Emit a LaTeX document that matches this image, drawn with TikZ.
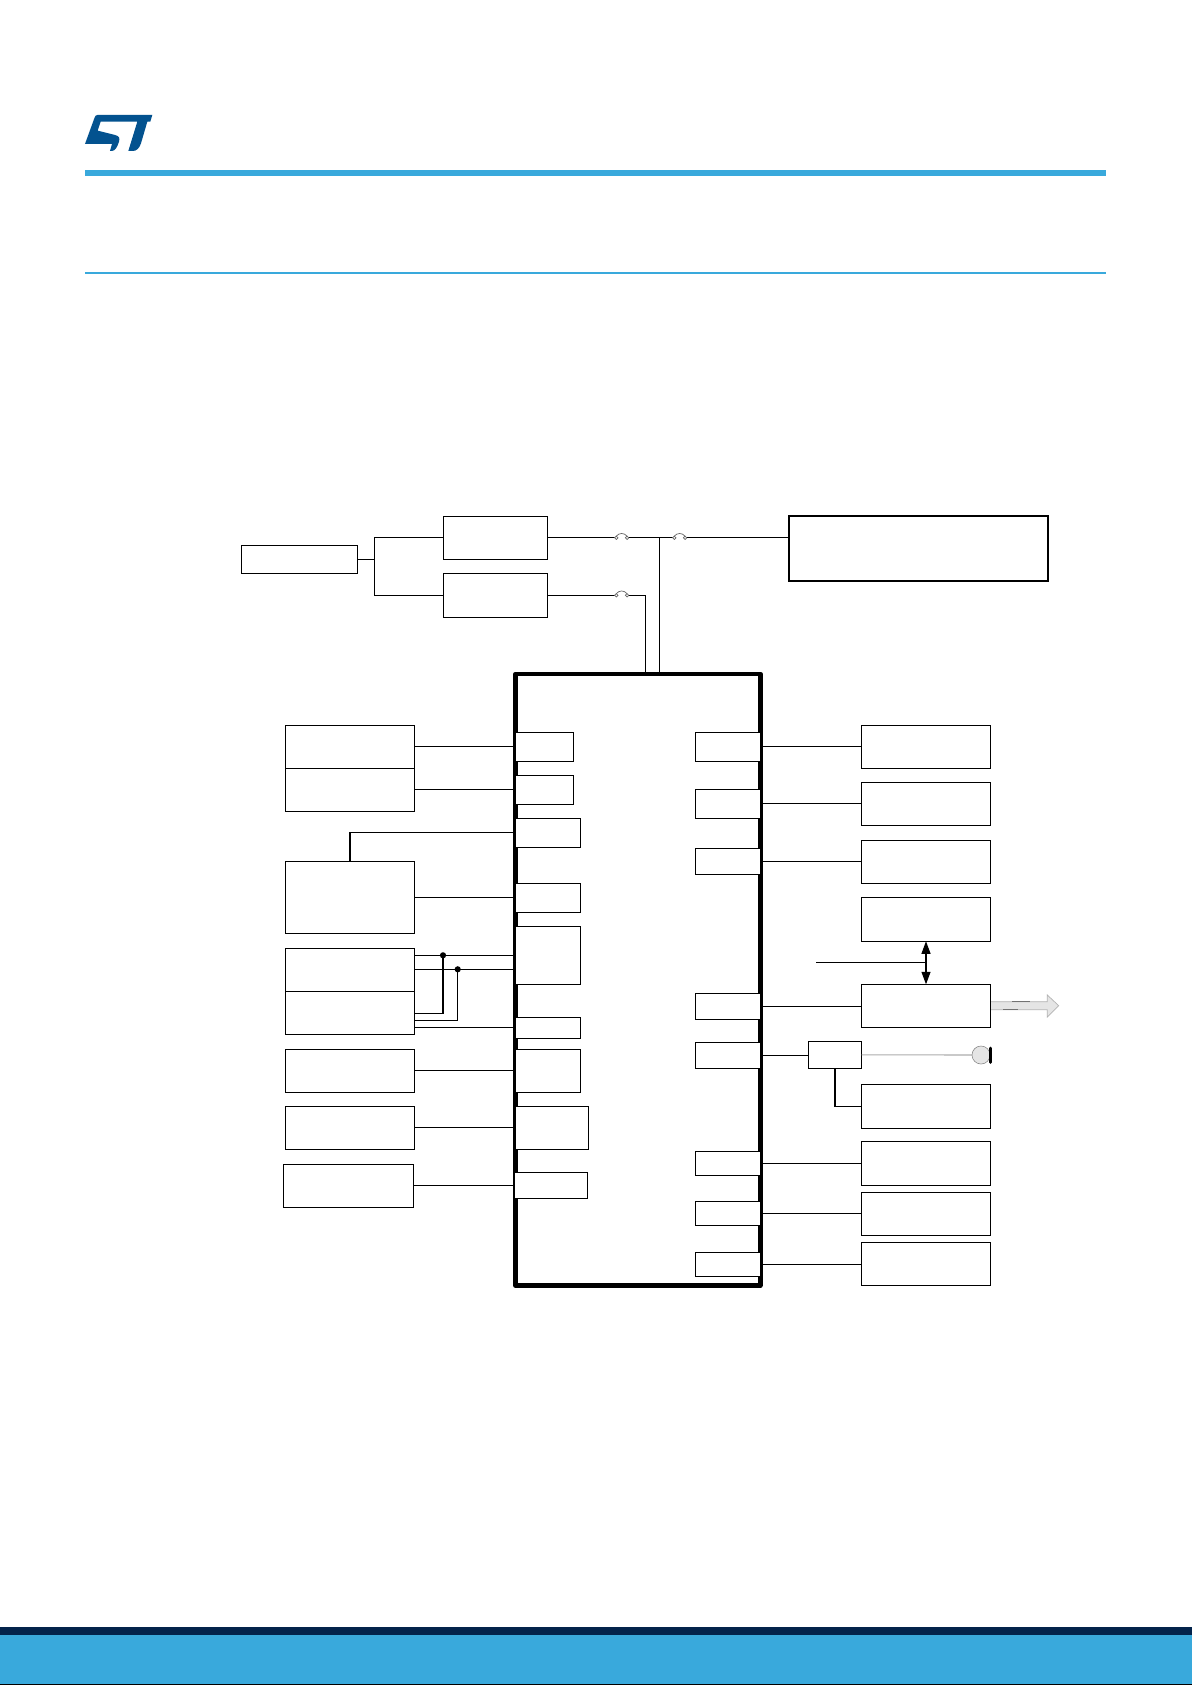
\documentclass[tikz,border=0pt]{standalone}
\usetikzlibrary{arrows.meta,calc}
\definecolor{stblue}{HTML}{39A9DC}
\definecolor{stnavy}{HTML}{03234B}
\definecolor{logoblue}{HTML}{03528F}
\tikzset{
  bx/.style={draw=black,line width=1.15pt,fill=white,rectangle,inner sep=0pt,outer sep=0pt},
  bigbx/.style={bx,line width=1.9pt},
  mcubx/.style={bx,line width=4.5pt,line join=round},
  wire/.style={draw=black,line width=1.15pt},
  graywire/.style={draw=black!32,line width=1.1pt},
  fusestyle/.style={draw=black!60,line width=.7pt,fill=white},
  dot/.style={circle,fill=black,inner sep=0pt,minimum size=6.2pt,outer sep=0pt},
  dbl/.style={wire,{Triangle[length=12.5pt,width=9pt]}-{Triangle[length=12.5pt,width=9pt]}},
}
\newcommand{\bxn}[6]{%
  \pgfmathsetmacro\cxv{(#3+#5)/2}\pgfmathsetmacro\cyv{(#4+#6)/2}%
  \pgfmathsetmacro\wv{#5-#3}\pgfmathsetmacro\hv{#6-#4}%
  \node[#1,minimum width=\wv pt,minimum height=\hv pt] (#2) at (\cxv,\cyv) {};}
\newcommand{\fusemark}[2]{%
  \draw[fusestyle] (#1) circle (1.7pt);
  \draw[fusestyle] (#2) circle (1.7pt);
  \draw[fusestyle,fill=none] ($(#1)+(0,-1.7)$) .. controls ($(#1)+(3,-5.2)$) and ($(#2)+(-3,-5.2)$) .. ($(#2)+(0,-1.7)$);}
\begin{document}
\begin{tikzpicture}[x=1pt,y=-1pt]
\useasboundingbox (0,0) rectangle (1192,1685);
\fill[white] (0,0) rectangle (1192,1685);
% page furniture
\fill[stblue] (85,170) rectangle (1106,176);
\fill[stblue] (85,272) rectangle (1106,274);
\fill[stnavy] (0,1627) rectangle (1192,1635);
\fill[stblue] (0,1635) rectangle (1192,1684);
\fill[black] (0,1684) rectangle (1192,1685);
% logo
\begin{scope}[shift={(60,90)},x=0.3333pt,y=-0.3333pt]
\fill[logoblue,line join=round]
 (112,75) -- (277,75) -- (271,95) -- (262,95) -- (243,160) .. controls (238,175) and (230,183) .. (218,183)
 -- (205,183) -- (232,95) -- (122,95) -- (113,122) -- (165,135) .. controls (178,138) and (180,145) .. (177,155)
 .. controls (172,172) and (165,183) .. (155,183) -- (150,183) -- (156,162) -- (75,162) -- (103,85) .. controls (105,78) and (108,75) .. (112,75) -- cycle;
\end{scope}
% top blocks
\bxn{bx}{pw}{241.3}{545.3}{357.7}{573.3}
\bxn{bx}{regA}{443.3}{516.3}{547.7}{559.3}
\bxn{bx}{regB}{443.3}{573.3}{547.7}{617.3}
\bxn{bigbx}{big}{788.7}{515.7}{1048}{580.7}
% MCU
\bxn{mcubx}{mcu}{515.5}{674}{760.3}{1285.5}
% left blocks
\bxn{bx}{LA}{285.3}{725.3}{414.7}{768.3}
\bxn{bx}{LB}{285.3}{768.3}{414.7}{811.3}
\bxn{bx}{LC}{285.3}{861.3}{414.7}{933.3}
\bxn{bx}{LD}{285.3}{948.3}{414.7}{991.3}
\bxn{bx}{LE}{285.3}{991.3}{414.7}{1034.3}
\bxn{bx}{LF}{285.3}{1049.3}{414.7}{1092.3}
\bxn{bx}{LG}{285.3}{1106.3}{414.7}{1149.3}
\bxn{bx}{LH}{283.3}{1164.3}{413.7}{1207.3}
% left pins
\bxn{bx}{PA}{515.7}{732.3}{573.7}{761.3}
\bxn{bx}{PB}{515.7}{775.3}{573.7}{804.3}
\bxn{bx}{PC}{515.7}{818.3}{580.7}{847.3}
\bxn{bx}{PD}{515.7}{883.3}{580.7}{912.3}
\bxn{bx}{PE}{515.7}{926.3}{580.7}{984.3}
\bxn{bx}{PF}{515.7}{1017.3}{580.7}{1038.3}
\bxn{bx}{PG}{515.7}{1049.3}{580.7}{1092.3}
\bxn{bx}{PH}{515.7}{1106.3}{588.7}{1149.3}
\bxn{bx}{PI}{514.7}{1172.3}{587.7}{1198.3}
% right pins
\bxn{bx}{RA}{695.3}{732.3}{760.3}{761.3}
\bxn{bx}{RB}{695.3}{789.3}{760.3}{818.3}
\bxn{bx}{RC}{695.3}{848.3}{760.3}{874.3}
\bxn{bx}{RD}{695.3}{993.3}{760.3}{1019.3}
\bxn{bx}{RE}{695.3}{1042.3}{760.3}{1068.3}
\bxn{bx}{RF}{695.3}{1151.3}{760.3}{1175.3}
\bxn{bx}{RG}{695.3}{1201.3}{760.3}{1225.3}
\bxn{bx}{RH}{695.3}{1252.3}{760.3}{1276.3}
% right blocks
\bxn{bx}{BA}{861.3}{725.3}{990.7}{768.3}
\bxn{bx}{BB}{861.3}{782.3}{990.7}{825.3}
\bxn{bx}{BC}{861.3}{840.3}{990.7}{883.3}
\bxn{bx}{BD}{861.3}{897.3}{990.7}{941.3}
\bxn{bx}{BE}{861.3}{984.3}{990.7}{1027.3}
\bxn{bx}{BF}{861.3}{1084.3}{990.7}{1128.3}
\bxn{bx}{BG}{861.3}{1141.3}{990.7}{1185.3}
\bxn{bx}{BH}{861.3}{1192.3}{990.7}{1235.3}
\bxn{bx}{BI}{861.3}{1242.3}{990.7}{1285.3}
\bxn{bx}{sw}{808.3}{1041.3}{861.7}{1068.3}
% named wire points
\coordinate (branch) at (374.3,559.3);
\coordinate (fa1) at (616.3,537.8);
\coordinate (fa2) at (627,537.8);
\coordinate (fb1) at (616.3,595.3);
\coordinate (fb2) at (627,595.3);
\coordinate (fc1) at (674.3,537.8);
\coordinate (fc2) at (685,537.8);
\coordinate (tee) at (659.3,537.8);
\coordinate (upB) at (645.3,595.3);
\coordinate (dotA) at (443,955.3);
\coordinate (dotB) at (457.7,969.3);
\coordinate (loA) at (443,1013.3);
\coordinate (loB) at (457.7,1020.3);
\coordinate (busFeed) at (816,962.3);
\coordinate (busJoin) at (925.7,962.3);
% top wiring
\draw[wire] (pw.east) -- (branch);
\draw[wire] (branch) |- (regA.west);
\draw[wire] (branch) |- (regB.west);
\draw[wire] (regA.east) -- (regA.east -| fa1);
\draw[wire] (fa2) -- (tee) -- (fc1);
\draw[wire] (fc2) -- (fc2 -| big.west);
\draw[wire] (regB.east) -- (regB.east -| fb1);
\draw[wire] (fb2) -- (upB) -- (upB |- mcu.north);
\draw[wire] (tee) -- (tee |- mcu.north);
\fusemark{fa1}{fa2}
\fusemark{fb1}{fb2}
\fusemark{fc1}{fc2}
% left wiring
\draw[wire] (LA.east) -- (LA.east -| PA.west);
\draw[wire] (LB.east) -- (LB.east -| PB.west);
\draw[wire] (LC.north) |- (PC.west);
\draw[wire] (LC.east) -- (PC.west |- LC.east);
\draw[wire] (LD.east |- dotA) -- (dotA) -- (PE.west |- dotA);
\draw[wire] (LD.east |- dotB) -- (dotB) -- (PE.west |- dotB);
\draw[wire] (dotA) -- (loA) -- (LE.east |- loA);
\draw[wire] (dotB) -- (loB) -- (LE.east |- loB);
\draw[wire] (LE.east |- PF.west) -- (PF.west);
\node[dot] (ndA) at (dotA) {};
\node[dot] (ndB) at (dotB) {};
\draw[wire] (LF.east) -- (LF.east -| PG.west);
\draw[wire] (LG.east) -- (LG.east -| PH.west);
\draw[wire] (LH.east) -- (LH.east -| PI.west);
% right wiring
\draw[wire] (RA.east) -- (RA.east -| BA.west);
\draw[wire] (RB.east) -- (RB.east -| BB.west);
\draw[wire] (RC.east) -- (RC.east -| BC.west);
\draw[wire] (RD.east) -- (RD.east -| BE.west);
\draw[wire] (RE.east) -- (RE.east -| sw.west);
\draw[wire] (sw.south) |- (BF.west);
\draw[wire] (RF.east) -- (RF.east -| BG.west);
\draw[wire] (RG.east) -- (RG.east -| BH.west);
\draw[wire] (RH.east) -- (RH.east -| BI.west);
\draw[dbl] (BD.south) -- (BE.north);
\draw[wire] (busFeed) -- (busJoin);
% jack
\coordinate (jack) at (981,1055);
\draw[graywire] (sw.east) -- (jack);
\draw[draw=black!45,line width=.6pt,fill=black!10] (jack) circle (9pt);
\draw[black,line width=2.6pt,line cap=round] (990.3,1048) -- (990.3,1062.5);
% output arrow
\draw[draw=black!30,line width=.7pt,fill=black!10,line join=miter]
  (BE.east |- 0,1001.7) -- (1047.3,1001.7) -- (1047.3,995) -- (1058.7,1005.7) -- (1047.3,1017) -- (1047.3,1009.7) -- (BE.east |- 0,1009.7);
\draw[black!55,line width=.7pt] (1012,1001.7) -- (1030,1001.7);
\draw[black!55,line width=.7pt] (1003,1009.7) -- (1018,1009.7);
\draw[black,line width=1.15pt] (BE.north east) -- (BE.south east);
\end{tikzpicture}
\end{document}
